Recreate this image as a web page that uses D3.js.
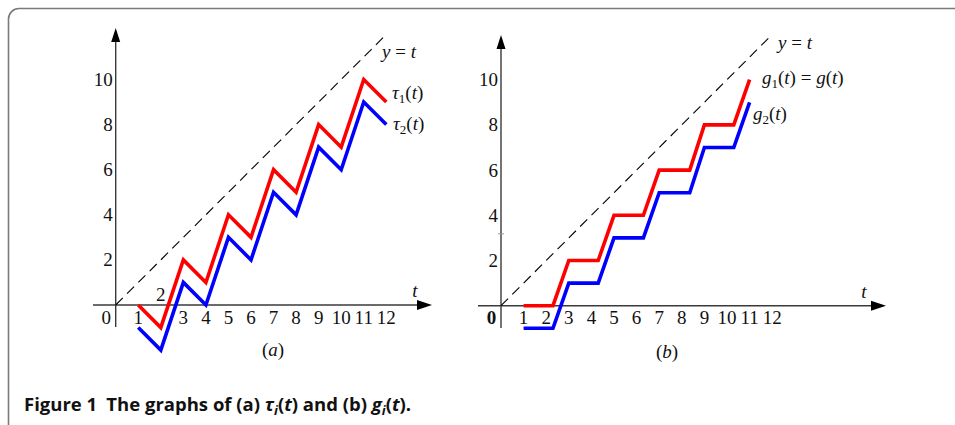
<!DOCTYPE html>
<html><head><meta charset="utf-8">
<script src="https://cdn.jsdelivr.net/npm/d3@7/dist/d3.min.js"></script>
<style>
html,body{margin:0;padding:0;background:#fff;}
svg{display:block;}
</style></head>
<body>
<script>
// ---- data ----
const tauT = [1,2,3,4,5,6,7,8,9,10,11,12];
const tau1 = [0,-1,2,1,4,3,6,5,8,7,10,9];
const tau2 = [-1,-2,1,0,3,2,5,4,7,6,9,8];
const gT   = [1,2.3,3,4.3,5,6.3,7,8.35,9,10.3,11];
const g1   = [0,0,2,2,4,4,6,6,8,8,10];
const g2   = [-1,-1,1,1,3,3,5,5,7,7,9];
const diag = [0,12];
const xTicks = [1,2,3,4,5,6,7,8,9,10,11,12];
const yTicks = [2,4,6,8,10];
const rightMinorTicks = [3.18];

const SERIF = "Liberation Serif, serif";
const FS = 19;
const W = 955, H = 425;
const svg = d3.select("body").append("svg").attr("width",W).attr("height",H);

function num(g){
  return g.append("text").attr("font-family",SERIF).attr("font-size",FS).attr("fill","#111");
}

// frame
svg.append("path")
  .attr("d","M8.5,430 L8.5,19 A10.5,10.5 0 0 1 19,8.5 L960,8.5")
  .attr("fill","none").attr("stroke","#7a7a7a").attr("stroke-width",1.6);

function panel(opt){
  const x = d3.scaleLinear().domain([0,12]).range([opt.x0, opt.x0 + 12*opt.u]);
  const y = d3.scaleLinear().domain([0,12]).range([opt.y0, opt.y0 - 12*opt.u]);
  const g = svg.append("g");
  const ax = "#3a3a3a";
  g.append("line").attr("x1",opt.xStart).attr("x2",opt.xArrow-10).attr("y1",y(0)).attr("y2",y(0))
    .attr("stroke",ax).attr("stroke-width",1.4);
  g.append("path").attr("d",`M${opt.xArrow},${y(0)} L${opt.xArrow-15},${y(0)-5} L${opt.xArrow-15},${y(0)+5}Z`).attr("fill","#000");
  g.append("line").attr("x1",x(0)).attr("x2",x(0)).attr("y1",opt.yBottom).attr("y2",opt.yArrow+10)
    .attr("stroke",ax).attr("stroke-width",1.4);
  g.append("path").attr("d",`M${x(0)},${opt.yArrow} L${x(0)-4.5},${opt.yArrow+14} L${x(0)+4.5},${opt.yArrow+14}Z`).attr("fill","#000");

  g.append("line").attr("x1",x(diag[0])).attr("y1",y(diag[0])).attr("x2",x(diag[1])).attr("y2",y(diag[1]))
    .attr("stroke","#000").attr("stroke-width",1.1).attr("stroke-dasharray","10,6");

  const line = d3.line().x(d=>x(d[0])).y(d=>y(d[1]));
  opt.series.forEach(s=>{
    g.append("path").datum(s.t.map((t,i)=>[t,s.v[i]])).attr("d",line)
      .attr("fill","none").attr("stroke",s.color).attr("stroke-width",3.6)
      .attr("stroke-linejoin","miter").attr("stroke-linecap","butt");
  });

  xTicks.forEach(v=>{
    const above = opt.twoAbove && v===2;
    num(g).attr("text-anchor","middle")
      .attr("x",x(v)).attr("y", above ? y(0)-4 : y(0)+18.5).text(v);
  });
  num(g).attr("text-anchor","middle")
    .attr("x",x(0)-9.5).attr("y",y(0)+18.5).attr("font-weight",opt.boldZero?"bold":"normal").text(0);
  yTicks.forEach(v=>{
    num(g).attr("text-anchor","end").attr("x",x(0)-3).attr("y",y(v)+6.5).text(v);
  });
  (opt.minor||[]).forEach(v=>{
    g.append("line").attr("x1",x(0)-3).attr("x2",x(0)+3).attr("y1",y(v)).attr("y2",y(v))
      .attr("stroke","#999").attr("stroke-width",1);
  });
  num(g).attr("font-style","italic").attr("text-anchor","middle")
    .attr("x",opt.tLabel[0]).attr("y",opt.tLabel[1]).text("t");
  const pl = num(g).attr("text-anchor","middle").attr("x",opt.pLabel[0]).attr("y",opt.pLabel[1]);
  pl.append("tspan").text("(");
  pl.append("tspan").attr("font-style","italic").text(opt.pName);
  pl.append("tspan").text(")");
  return {g,x,y};
}

function mathLabel(g, xx, yy, parts){
  const t = num(g).attr("x",xx).attr("y",yy);
  parts.forEach(p=>{
    const sp = t.append("tspan").text(p.s);
    if(p.i) sp.attr("font-style","italic");
    if(p.sub){ sp.attr("font-size",13).attr("dy",4); }
    if(p.up) sp.attr("dy",-4);
  });
  return t;
}

const A = panel({x0:115.7,y0:305,u:22.55,xStart:93,xArrow:432,yArrow:28,yBottom:327,
  twoAbove:true,tLabel:[415,297],pLabel:[273,356],pName:"a",
  series:[{t:tauT,v:tau1,color:"#ff0000"},{t:tauT,v:tau2,color:"#0000ff"}]});
const B = panel({x0:501,y0:305.7,u:22.6,xStart:478,xArrow:886,yArrow:35,yBottom:328,
  boldZero:true,tLabel:[864,298],pLabel:[667,358],pName:"b",minor:rightMinorTicks,
  series:[{t:gT,v:g1,color:"#ff0000"},{t:gT,v:g2,color:"#0000ff"}]});

mathLabel(A.g,382,58,[{s:"y",i:1},{s:" = "},{s:"t",i:1}]);
mathLabel(A.g,392,99,[{s:"τ",i:1},{s:"1",sub:1},{s:"(",up:1},{s:"t",i:1},{s:")"}]);
mathLabel(A.g,393,130,[{s:"τ",i:1},{s:"2",sub:1},{s:"(",up:1},{s:"t",i:1},{s:")"}]);

mathLabel(B.g,778,49,[{s:"y",i:1},{s:" = "},{s:"t",i:1}]);
mathLabel(B.g,762,84,[{s:"g",i:1},{s:"1",sub:1},{s:"(",up:1},{s:"t",i:1},{s:") = "},{s:"g",i:1},{s:"("},{s:"t",i:1},{s:")"}]);
mathLabel(B.g,753,120,[{s:"g",i:1},{s:"2",sub:1},{s:"(",up:1},{s:"t",i:1},{s:")"}]);

// caption
const cap = svg.append("text").attr("font-family","Open Sans, sans-serif").attr("font-weight","bold")
  .attr("font-size",18.5).attr("fill","#111").attr("x",24).attr("y",411);
cap.append("tspan").text("Figure 1\u2002The graphs of (a) ");
cap.append("tspan").attr("font-style","italic").text("τ");
cap.append("tspan").attr("font-style","italic").attr("font-size",13).attr("dy",4).text("i");
cap.append("tspan").attr("dy",-4).text("(");
cap.append("tspan").attr("font-style","italic").text("t");
cap.append("tspan").text(") and (b) ");
cap.append("tspan").attr("font-style","italic").text("g");
cap.append("tspan").attr("font-style","italic").attr("font-size",13).attr("dy",4).text("i");
cap.append("tspan").attr("dy",-4).text("(");
cap.append("tspan").attr("font-style","italic").text("t");
cap.append("tspan").text(").");
</script>
</body></html>
